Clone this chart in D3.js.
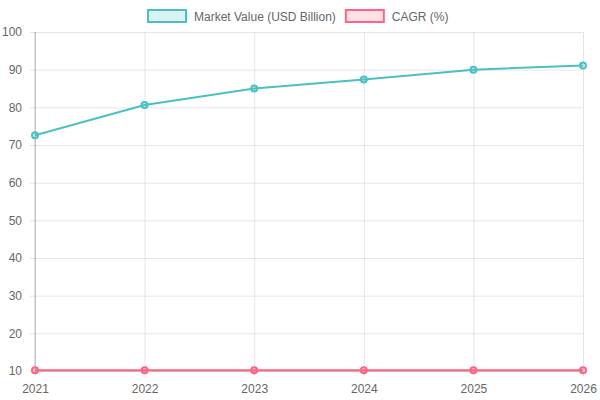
<!DOCTYPE html>
<html><head><meta charset="utf-8">
<script src="https://cdn.jsdelivr.net/npm/d3@7"></script>
<style>body{margin:0;background:#fff}svg{display:block}</style>
</head><body>
<svg id="c" width="600" height="400"></svg>
<script>
const years = ["2021","2022","2023","2024","2025","2026"];
const marketValue = [72.6, 80.6, 85.0, 87.4, 90.0, 91.1];
const cagr = [10.2, 10.2, 10.2, 10.2, 10.2, 10.2];
const yTicks = [10,20,30,40,50,60,70,80,90,100];
const seriesNames = ["Market Value (USD Billion)", "CAGR (%)"];

const svg = d3.select("#c");
const font = "Liberation Sans, Arial, Helvetica, sans-serif";
const L = 35, R = 583, T = 32, B = 371;
const x = d3.scalePoint().domain(years).range([L, R]);
const y = d3.scaleLinear().domain([10, 100]).range([B, T]);
const grid = "rgba(0,0,0,0.1)";

// horizontal grid
const yAxis = d3.axisLeft(y).tickValues(yTicks).tickSize(-(R - L)).tickPadding(13);
const gy = svg.append("g").attr("transform", `translate(${L},0)`).call(yAxis);
gy.select(".domain").remove();
gy.selectAll(".tick line").attr("stroke", grid).attr("x1", -5);
gy.selectAll(".tick text").attr("fill", "#666").attr("font-size", 12).attr("font-family", font);

const xAxis = d3.axisBottom(x).tickSize(-(B - T)).tickPadding(13);
const gx = svg.append("g").attr("transform", `translate(0,${B})`).call(xAxis);
gx.select(".domain").remove();
gx.selectAll(".tick line").attr("stroke", grid).attr("y1", 5);
gx.selectAll(".tick text").attr("fill", "#666").attr("font-size", 12).attr("font-family", font);

// axis borders
svg.append("line").attr("x1", L).attr("x2", L).attr("y1", T).attr("y2", B).attr("stroke", "rgba(0,0,0,0.25)");
svg.append("line").attr("x1", L).attr("x2", R).attr("y1", B).attr("y2", B).attr("stroke", "rgba(0,0,0,0.25)");

const series = [
  {name: seriesNames[0], data: marketValue, color: "rgb(75,192,192)", fill: "rgba(75,192,192,0.2)"},
  {name: seriesNames[1], data: cagr, color: "rgb(255,99,132)", fill: "rgba(255,99,132,0.2)"}
];
const line = d3.line().x((d, i) => x(years[i])).y(d => y(d));
series.forEach(s => {
  svg.append("path").datum(s.data).attr("d", line).attr("fill", "none")
    .attr("stroke", s.color).attr("stroke-width", 2);
  svg.append("g").selectAll("circle").data(s.data).join("circle")
    .attr("cx", (d, i) => x(years[i])).attr("cy", d => y(d)).attr("r", 3)
    .attr("fill", s.fill).attr("stroke", s.color).attr("stroke-width", 2);
});

// legend
const lg = svg.append("g").attr("font-family", font).attr("font-size", 12);
let lx = 148;
series.forEach(s => {
  lg.append("rect").attr("x", lx).attr("y", 10).attr("width", 38).attr("height", 12)
    .attr("fill", s.fill).attr("stroke", s.color).attr("stroke-width", 2);
  const t = lg.append("text").attr("x", lx + 46).attr("y", 20.5).attr("fill", "#666").text(s.name);
  lx += 46 + t.node().getComputedTextLength() + 10;
});
</script>
</body></html>
